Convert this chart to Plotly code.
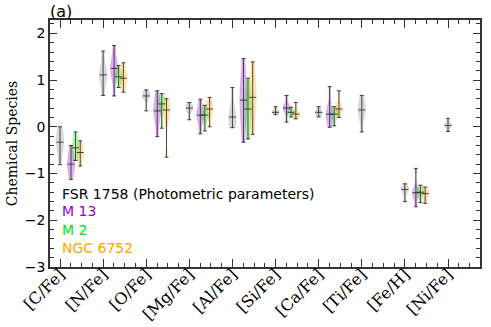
import numpy as np
import plotly.graph_objects as go

# ---------------- data ----------------
species = ["[C/Fe]", "[N/Fe]", "[O/Fe]", "[Mg/Fe]", "[Al/Fe]",
           "[Si/Fe]", "[Ca/Fe]", "[Ti/Fe]", "[Fe/H]", "[Ni/Fe]"]

fsr1758 = [
    [-0.81, -0.55, -0.42, -0.33, -0.25, -0.15, 0.00],
    [0.67, 0.95, 1.05, 1.11, 1.18, 1.30, 1.62],
    [0.34, 0.58, 0.64, 0.66, 0.70, 0.73, 0.79],
    [0.15, 0.32, 0.38, 0.40, 0.43, 0.46, 0.52],
    [-0.02, 0.08, 0.14, 0.21, 0.30, 0.45, 0.84],
    [0.26, 0.29, 0.30, 0.31, 0.33, 0.37, 0.43],
    [0.21, 0.27, 0.29, 0.31, 0.33, 0.37, 0.43],
    [-0.11, 0.20, 0.30, 0.36, 0.42, 0.52, 0.67],
    [-1.60, -1.42, -1.37, -1.34, -1.31, -1.27, -1.22],
    [-0.10, -0.01, 0.01, 0.03, 0.05, 0.09, 0.18],
]
m13 = [
    [-1.13, -0.95, -0.86, -0.80, -0.72, -0.60, -0.40],
    [0.66, 1.05, 1.18, 1.25, 1.32, 1.42, 1.74],
    [-0.21, 0.15, 0.28, 0.34, 0.45, 0.55, 0.77],
    [-0.15, 0.12, 0.20, 0.25, 0.32, 0.40, 0.59],
    [-0.33, 0.15, 0.40, 0.57, 0.75, 0.95, 1.46],
    [0.10, 0.32, 0.37, 0.40, 0.43, 0.48, 0.67],
    [-0.01, 0.15, 0.22, 0.27, 0.33, 0.45, 0.86],
    None,
    [-1.71, -1.50, -1.45, -1.41, -1.37, -1.30, -0.89],
    None,
]
m2 = [
    [-0.72, -0.60, -0.52, -0.45, -0.38, -0.28, -0.11],
    [0.84, 0.97, 1.03, 1.07, 1.11, 1.17, 1.31],
    [-0.03, 0.35, 0.45, 0.49, 0.55, 0.62, 0.71],
    [-0.09, 0.15, 0.21, 0.25, 0.30, 0.36, 0.46],
    [-0.26, 0.10, 0.28, 0.38, 0.52, 0.72, 1.04],
    [0.21, 0.27, 0.29, 0.31, 0.33, 0.36, 0.42],
    [0.02, 0.17, 0.24, 0.27, 0.31, 0.36, 0.43],
    None,
    [-1.62, -1.47, -1.43, -1.40, -1.37, -1.32, -1.25],
    None,
]
ngc6752 = [
    [-0.84, -0.66, -0.60, -0.55, -0.50, -0.42, -0.30],
    [0.74, 0.92, 0.99, 1.04, 1.10, 1.20, 1.37],
    [-0.65, 0.15, 0.30, 0.36, 0.42, 0.50, 0.60],
    [0.00, 0.27, 0.34, 0.38, 0.43, 0.50, 0.63],
    [-0.16, 0.30, 0.50, 0.63, 0.78, 0.98, 1.39],
    [0.17, 0.22, 0.25, 0.27, 0.30, 0.36, 0.52],
    [0.20, 0.31, 0.35, 0.38, 0.42, 0.50, 0.77],
    None,
    [-1.64, -1.51, -1.46, -1.43, -1.40, -1.35, -1.29],
    None,
]

groups = [
    ("FSR 1758 (Photometric parameters)", fsr1758, 0.0, "128,128,128", "black"),
    ("M 13", m13, 0.255, "148,0,211", "#9400D3"),
    ("M 2", m2, 0.36, "0,230,0", "#00E600"),
    ("NGC 6752", ngc6752, 0.47, "255,165,0", "#FFA500"),
]

fig = go.Figure()

######## violins + extrema bars ########
for name, data, off, rgb, txtcol in groups:
    ex, ey, eplus, eminus = [], [], [], []
    for i, vals in enumerate(data):
        if vals is None:
            continue
        xpos = i + off
        fig.add_trace(go.Violin(
            x=[xpos] * len(vals), y=vals, width=0.17,
            spanmode="hard", points=False,
            fillcolor="rgba(%s,0.3)" % rgb,
            line=dict(color="rgba(%s,0.25)" % rgb, width=0.5),
            hoverinfo="skip", showlegend=False))
        v = np.array(vals)
        med = float(np.median(v))
        ex.append(xpos)
        ey.append(med)
        eplus.append(v.max() - med)
        eminus.append(med - v.min())
    fig.add_trace(go.Scatter(
        x=ex, y=ey, mode="markers",
        marker=dict(symbol="line-ew", size=5,
                    line=dict(color="rgba(30,30,30,0.8)", width=1)),
        error_y=dict(type="data", array=eplus, arrayminus=eminus,
                     color="rgba(30,30,30,0.8)", thickness=1, width=2),
        showlegend=False, hoverinfo="skip"))

######## texte de legende ########
leg_y = [-1.43, -1.80, -2.20, -2.59]
for (name, data, off, rgb, txtcol), yy in zip(groups, leg_y):
    fig.add_annotation(x=0.023, xref="paper", y=yy, yref="y", text=name,
                       showarrow=False, xanchor="left", yanchor="middle",
                       font=dict(family="DejaVu Sans", size=14, color=txtcol))

fig.add_annotation(x=-0.005, xref="paper", y=1.0, yref="paper", text="(a)",
                   showarrow=False, xanchor="left", yanchor="bottom", yshift=-3,
                   font=dict(family="DejaVu Sans", size=16, color="black"))

axis_common = dict(showline=True, linecolor="#333", linewidth=1.5, mirror="ticks",
                   ticks="inside", tickcolor="#333", showgrid=False, zeroline=False,
                   automargin=False)

fig.update_layout(
    width=491, height=327,
    margin=dict(l=50, r=11, t=20, b=60),
    plot_bgcolor="white", paper_bgcolor="white",
    violinmode="overlay",
    xaxis=dict(range=[-0.232, 9.742], tickmode="array",
               tickvals=list(range(len(species))), ticktext=species,
               tickangle=-45, ticklen=8, tickwidth=1.2, ticklabelstandoff=-10,
               tickfont=dict(family="DejaVu Serif", size=16, color="black"),
               minor=dict(dtick=0.25, tick0=0, ticks="inside", ticklen=4,
                          tickcolor="#333", tickwidth=1),
               **axis_common),
    yaxis=dict(range=[-3, 2.285], tickmode="linear", tick0=-3, dtick=1,
               ticklen=7, tickwidth=1.2,
               tickfont=dict(family="DejaVu Sans", size=14, color="black"),
               title=dict(text="Chemical Species", standoff=4,
                          font=dict(family="DejaVu Serif", size=14, color="black")),
               minor=dict(dtick=0.2, tick0=0, ticks="inside", ticklen=4,
                          tickcolor="#333", tickwidth=1),
               **axis_common),
)

# page sans marge autour du graphique
fig.write_html("out.html", config={"displayModeBar": False},
               post_script="document.body.style.margin='0';")
